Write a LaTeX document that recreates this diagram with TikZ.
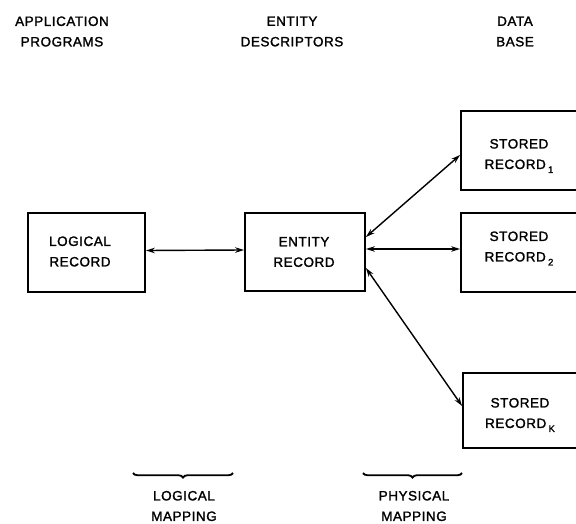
\documentclass[tikz,border=0pt]{standalone}
\usepackage{fontspec}
\setmainfont{Liberation Sans}
\newfontfamily\labfont{Liberation Sans}[FakeBold=1.6,LetterSpace=4]
\usetikzlibrary{arrows.meta,decorations.pathreplacing}
\begin{document}
\begin{tikzpicture}[x=1pt,y=-1pt,
  box/.style={draw,line width=1.8pt,inner sep=0pt},
  lbl/.style={align=center,inner sep=0pt,font=\labfont\fontsize{13.5}{20.5}\selectfont},
  arr/.style={{Stealth[length=9pt,width=5.5pt]}-{Stealth[length=9pt,width=5.5pt]},line width=1.4pt},
  brc/.style={decorate,decoration={brace,mirror,amplitude=4.5pt},line width=1.8pt}]
\useasboundingbox (0,0) rectangle (576,524);
\clip (0,0) rectangle (576,524);
\newcommand{\sub}[1]{\,\raisebox{-4pt}{\fontsize{9.5}{9.5}\selectfont #1}}
% headers
\node[lbl] (h1) at (62,31.5) {APPLICATION\\PROGRAMS};
\node[lbl] (h2) at (292,31.5) {ENTITY\\DESCRIPTORS};
\node[lbl] (h3) at (515,31.5) {DATA\\BASE};
% boxes
\node[box,minimum width=117pt,minimum height=79pt] (lr) at (86.5,252.5) {};
\node[box,minimum width=120pt,minimum height=78pt] (er) at (305,252) {};
\node[box,minimum width=139pt,minimum height=79pt] (sr1) at (530.5,150.5) {};
\node[box,minimum width=139pt,minimum height=79pt] (sr2) at (530.5,252.5) {};
\node[box,minimum width=137pt,minimum height=75pt] (srk) at (531.5,410.5) {};
% box texts
\node[lbl] (lrt) at (80,251.5) {LOGICAL\\RECORD};
\node[lbl] (ert) at (304,252) {ENTITY\\RECORD};
\node[lbl] (sr1t) at (519,156) {STORED\\RECORD\sub{1}};
\node[lbl] (sr2t) at (519,248.5) {STORED\\RECORD\sub{2}};
\node[lbl] (srkt) at (520,415) {STORED\\RECORD\sub{K}};
% connectors
\draw[arr] ([yshift=2pt]lr.east) -- ([yshift=2pt]er.west);
\draw[arr] ([yshift=15pt]er.east) -- ([yshift=-4.5pt]sr1.west);
\draw[arr] ([yshift=3pt]er.east) -- ([yshift=3.5pt]sr2.west);
\draw[arr] ([yshift=-16pt]er.east) -- ([yshift=4.5pt]srk.west);
% braces
\coordinate (b1l) at (133,473);
\coordinate (b1r) at (233,473);
\coordinate (b2l) at (363,473);
\coordinate (b2r) at (462,473);
\draw[brc] (b1l) -- (b1r);
\draw[brc] (b2l) -- (b2r);
\node[lbl] (m1) at (184,506) {LOGICAL\\MAPPING};
\node[lbl] (m2) at (414,506) {PHYSICAL\\MAPPING};
\end{tikzpicture}
\end{document}
